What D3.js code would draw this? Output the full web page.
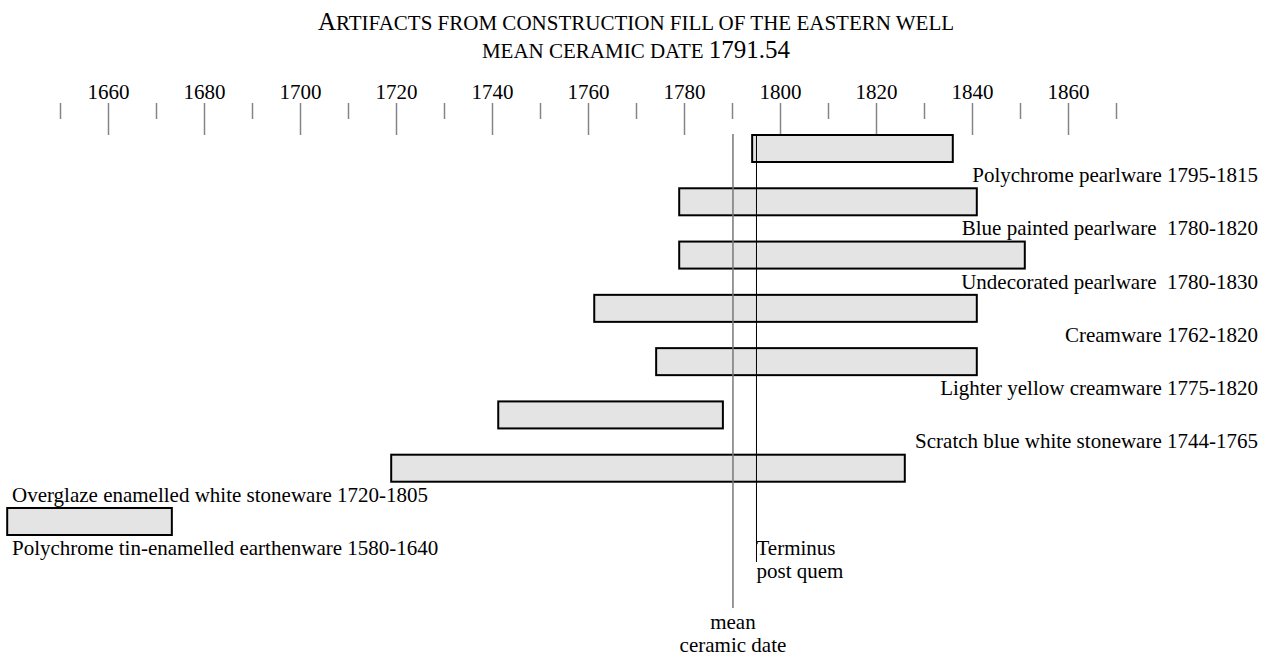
<html>
<head>
<style type="text/css">
	body { margin: 0; background: #fff; }
	.chart text { font-family: "Liberation Serif", "Times New Roman", serif; fill: #000; }
	.chart .tick text { font-size: 21px; }
	.chart .label { font-size: 21px; white-space: pre; }
</style>
</head>
<body>
<svg class="chart" width="1271" height="658"></svg>

<script src="https://d3js.org/d3.v7.min.js"></script>
<script>
// ware types, top to bottom
var wares = [
	"Polychrome pearlware",
	"Blue painted pearlware",
	"Undecorated pearlware",
	"Creamware",
	"Lighter yellow creamware",
	"Scratch blue white stoneware",
	"Overglaze enamelled white stoneware",
	"Polychrome tin-enamelled earthenware"
];
// bar extents as drawn
var startYears = [1794.2, 1779, 1779, 1761.3, 1774.2, 1741.3, 1719, 1639];
var endYears = [1836, 1841, 1851, 1841, 1841, 1788.1, 1826, 1673.3];
var labelTexts = [
	"Polychrome pearlware 1795-1815",
	"Blue painted pearlware  1780-1820",
	"Undecorated pearlware  1780-1830",
	"Creamware 1762-1820",
	"Lighter yellow creamware 1775-1820",
	"Scratch blue white stoneware 1744-1765",
	"Overglaze enamelled white stoneware 1720-1805",
	"Polychrome tin-enamelled earthenware 1580-1640"
];
var majorTicks = [1660, 1680, 1700, 1720, 1740, 1760, 1780, 1800, 1820, 1840, 1860];
var minorTicks = [1650, 1670, 1690, 1710, 1730, 1750, 1770, 1790, 1810, 1830, 1850, 1870];
var meanLineYear = 1790.2;
var terminusYear = 1795.1;
var meanCeramicDate = "1791.54";

var svg = d3.select("svg");

var x = d3.scaleLinear()
	.domain([1650, 1870])
	.range([60, 1116]);

var y = d3.scaleBand()
	.domain(wares)
	.range([135, 535])
	.paddingInner(0.493)
	.paddingOuter(0)
	.align(0);

//Title, small caps done by hand
var title1 = svg.append("text")
	.attr("x", 636)
	.attr("y", 30)
	.attr("text-anchor", "middle");
title1.append("tspan").style("font-size", "25px").text("A");
title1.append("tspan").style("font-size", "21px").text("RTIFACTS FROM CONSTRUCTION FILL OF THE EASTERN WELL");

var title2 = svg.append("text")
	.attr("x", 636)
	.attr("y", 57.5)
	.attr("text-anchor", "middle");
title2.append("tspan").style("font-size", "21px").text("MEAN CERAMIC DATE ");
title2.append("tspan").style("font-size", "25px").text(meanCeramicDate);

//Axis (ticks hang down, labels above)
var minorAxis = svg.append("g")
	.attr("transform", "translate(0,103)")
	.call(d3.axisBottom(x).tickValues(minorTicks).tickSize(16).tickSizeOuter(0).tickFormat(""));
minorAxis.select(".domain").remove();

var majorAxis = svg.append("g")
	.attr("transform", "translate(0,103)")
	.call(d3.axisBottom(x).tickValues(majorTicks).tickSize(32).tickSizeOuter(0).tickFormat(d3.format("d")));
majorAxis.select(".domain").remove();
majorAxis.selectAll("text").attr("y", -4).attr("dy", 0);

svg.selectAll(".tick line")
	.attr("stroke", "#858585")
	.attr("stroke-width", 1.5);

//Bars
svg.append("g").selectAll("rect")
	.data(wares)
	.enter()
	.append("rect")
	.attr("x", function(d, i) { return x(startYears[i]); })
	.attr("y", function(d) { return y(d); })
	.attr("width", function(d, i) { return x(endYears[i]) - x(startYears[i]); })
	.attr("height", y.bandwidth())
	.attr("fill", "#e4e4e4")
	.attr("stroke", "#000")
	.attr("stroke-width", 2);

//Labels under each bar; the last two sit on the left
svg.append("g").selectAll("text")
	.data(wares)
	.enter()
	.append("text")
	.attr("class", "label")
	.attr("x", function(d, i) { return i >= 6 ? 12 : 1258; })
	.attr("y", function(d) { return y(d) + y.bandwidth() + 20; })
	.attr("text-anchor", function(d, i) { return i >= 6 ? "start" : "end"; })
	.text(function(d, i) { return labelTexts[i]; });

//Mean ceramic date line
svg.append("line")
	.attr("x1", x(meanLineYear))
	.attr("x2", x(meanLineYear))
	.attr("y1", 134)
	.attr("y2", 608)
	.attr("stroke", "#777")
	.attr("stroke-width", 1.5);

//Terminus post quem line
svg.append("line")
	.attr("x1", x(terminusYear))
	.attr("x2", x(terminusYear))
	.attr("y1", 134)
	.attr("y2", 562)
	.attr("stroke", "#000")
	.attr("stroke-width", 1);

svg.append("text").attr("class", "label")
	.attr("x", x(terminusYear)).attr("y", 555).text("Terminus");
svg.append("text").attr("class", "label")
	.attr("x", x(terminusYear)).attr("y", 578).text("post quem");

svg.append("text").attr("class", "label")
	.attr("x", x(meanLineYear)).attr("y", 629)
	.attr("text-anchor", "middle").text("mean");
svg.append("text").attr("class", "label")
	.attr("x", x(meanLineYear)).attr("y", 652)
	.attr("text-anchor", "middle").text("ceramic date");
</script>
</body>
</html>
